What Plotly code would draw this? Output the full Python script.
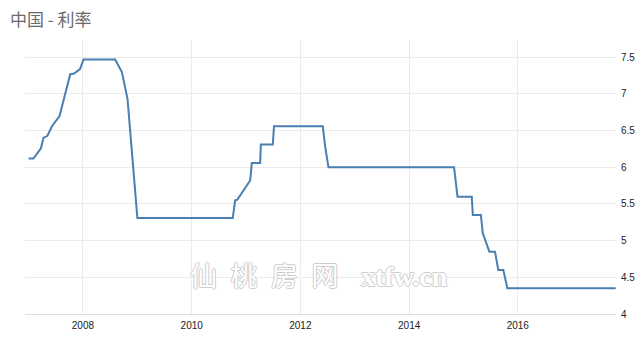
import plotly.graph_objects as go

# ---- data ----
dates = [
    "2007-01-01", "2007-02-03", "2007-03-25", "2007-04-11", "2007-05-08",
    "2007-06-07", "2007-07-28", "2007-10-08", "2007-11-03", "2007-12-13",
    "2008-01-05", "2008-08-05", "2008-09-19", "2008-10-27", "2009-01-01",
    "2010-10-04", "2010-10-20", "2010-11-04", "2011-01-29", "2011-02-09",
    "2011-04-06", "2011-04-11", "2011-06-30", "2011-07-08", "2012-05-31",
    "2012-06-16", "2012-07-08", "2014-10-30", "2014-11-22", "2015-02-26",
    "2015-03-05", "2015-04-28", "2015-05-11", "2015-06-24", "2015-08-01",
    "2015-08-23", "2015-09-26", "2015-10-23", "2017-10-20",
]
rates = [
    6.12, 6.12, 6.26, 6.40, 6.43,
    6.56, 6.70, 7.27, 7.28, 7.34,
    7.47, 7.47, 7.30, 6.93, 5.31,
    5.31, 5.55, 5.56, 5.82, 6.06,
    6.06, 6.31, 6.31, 6.56, 6.56,
    6.28, 6.00, 6.00, 5.60, 5.60,
    5.35, 5.35, 5.10, 4.85, 4.85,
    4.60, 4.60, 4.35, 4.35,
]

x_tick_vals = ["2008-01-01", "2010-01-01", "2012-01-01", "2014-01-01", "2016-01-01"]
x_tick_text = ["2008", "2010", "2012", "2014", "2016"]
y_tick_vals = [4, 4.5, 5, 5.5, 6, 6.5, 7, 7.5]
y_tick_text = ["4", "4.5", "5", "5.5", "6", "6.5", "7", "7.5"]

title_text = "中国 - 利率"
watermark_cn = "仙\u2002桃\u2002房\u2002网"
watermark_en = "xtfw.cn"

fig = go.Figure(
    go.Scatter(
        x=dates, y=rates, mode="lines",
        line=dict(color="#4a7fb3", width=2),
        hoverinfo="skip",
    )
)

outline = "1px 0 0 #cdcdcd, -1px 0 0 #cdcdcd, 0 1px 0 #cdcdcd, 0 -1px 0 #cdcdcd"

fig.update_layout(
    width=640, height=339,
    margin=dict(l=25, r=24, t=40, b=25),
    paper_bgcolor="white", plot_bgcolor="white",
    showlegend=False,
    title=dict(
        text=title_text, x=10 / 640, xanchor="left",
        y=1 - 20 / 339, yanchor="middle",
        font=dict(family="Noto Sans CJK SC", size=17, color="#6a6a6a"),
    ),
    xaxis=dict(
        type="date", automargin=False,
        range=["2006-12-08", "2017-10-22"],
        tickvals=x_tick_vals, ticktext=x_tick_text,
        showgrid=True, gridcolor="#ebebeb", gridwidth=1,
        showline=True, linecolor="#dcdcdc", linewidth=1,
        ticks="", zeroline=False, ticklabelstandoff=2,
        tickfont=dict(family="Liberation Sans", size=10, color="#222222"),
    ),
    yaxis=dict(
        side="right", automargin=False,
        range=[4, 7.736],
        tickvals=y_tick_vals, ticktext=y_tick_text,
        showgrid=True, gridcolor="#ebebeb", gridwidth=1,
        showline=False, zeroline=False, ticks="", ticklabelstandoff=4,
        tickfont=dict(family="Liberation Sans", size=10, color="#222222"),
    ),
    annotations=[
        dict(
            text=watermark_cn, xref="paper", yref="paper",
            x=(264 - 25) / 591, y=(314 - 274) / 274,
            xanchor="center", yanchor="middle", showarrow=False,
            font=dict(family="Noto Sans CJK SC", size=27, color="white",
                      shadow=outline),
        ),
        dict(
            text=watermark_en, xref="paper", yref="paper",
            x=(404 - 25) / 591, y=(314 - 276) / 274,
            xanchor="center", yanchor="middle", showarrow=False,
            font=dict(family="Liberation Serif", size=28, color="white",
                      weight="bold", shadow=outline),
        ),
    ],
)

fig.write_html("out.html")
